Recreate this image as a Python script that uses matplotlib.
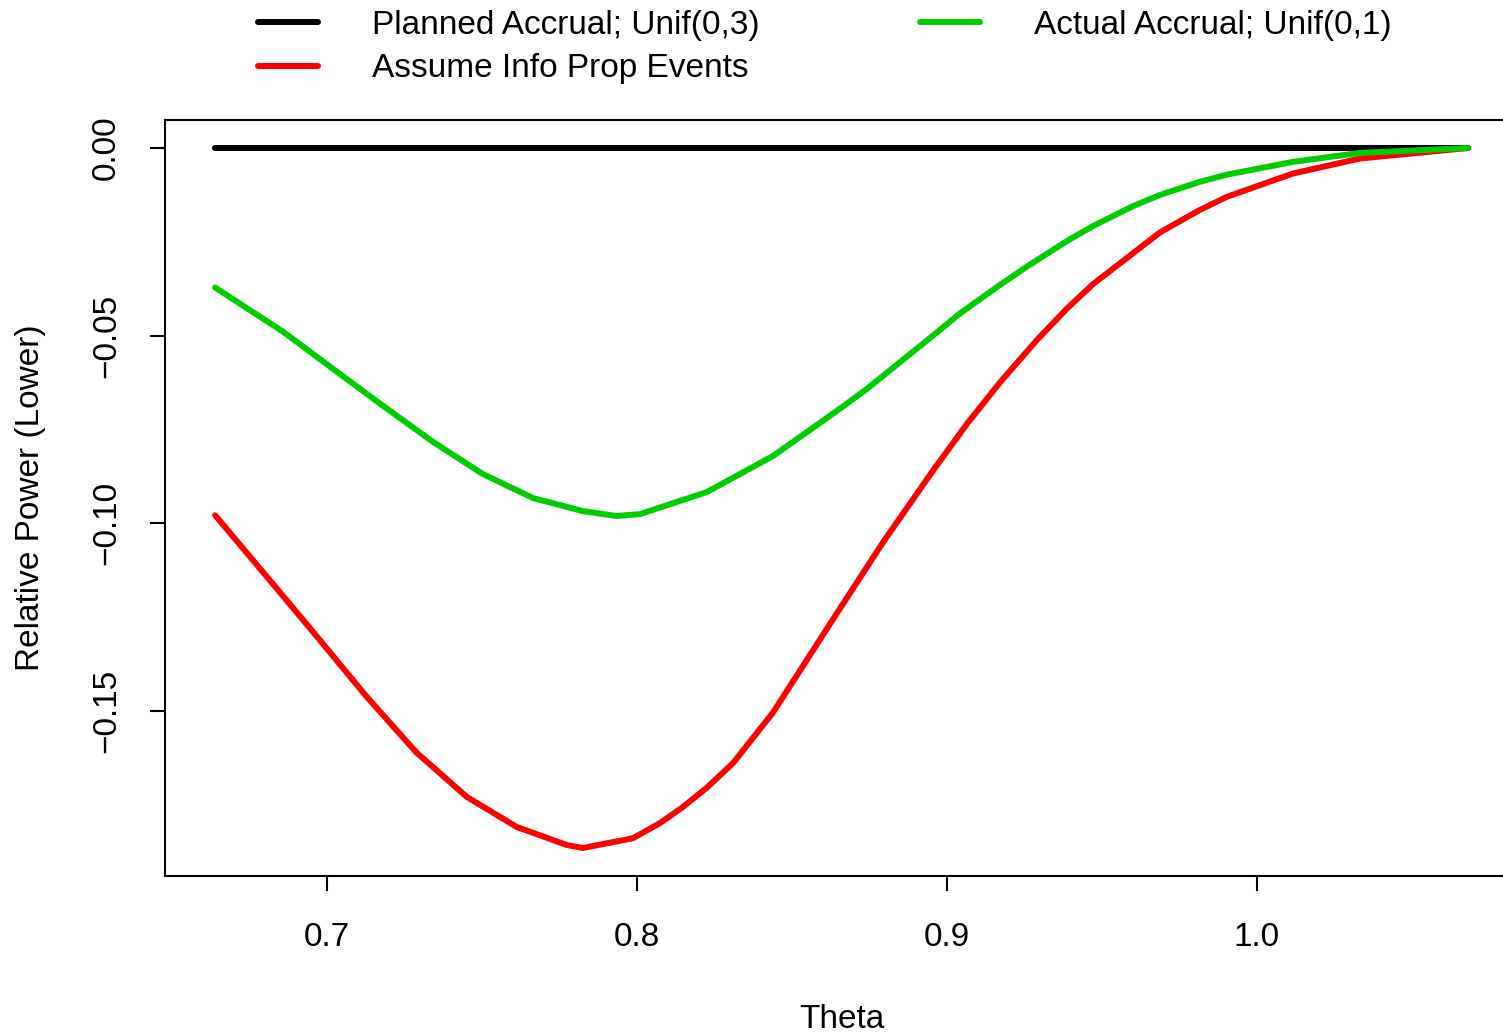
import matplotlib
matplotlib.use("Agg")
import matplotlib.pyplot as plt

plt.rcParams['font.family'] = ['Liberation Sans', 'DejaVu Sans']

# Planned accrual (reference line at zero)
theta_planned = [0.664, 1.068]
planned = [0.0, 0.0]

# Assume info prop events (red)
theta_assume = [0.664, 0.6806, 0.6968, 0.7129, 0.729, 0.7452, 0.7613, 0.7774, 0.7826, 0.7987,
                0.8074, 0.8148, 0.8226, 0.831, 0.8439, 0.8632, 0.8794, 0.8955, 0.9065, 0.9171,
                0.929, 0.9387, 0.9471, 0.9687, 0.9816, 0.9903, 1.0116, 1.0332, 1.068]
assume_info = [-0.0979, -0.1142, -0.1302, -0.1463, -0.1612, -0.1730, -0.1810, -0.1858, -0.1866, -0.1840,
               -0.1800, -0.1757, -0.1705, -0.1640, -0.1505, -0.1257, -0.1051, -0.0860, -0.0735, -0.0625,
               -0.0512, -0.0428, -0.0363, -0.0225, -0.0165, -0.0130, -0.0068, -0.0028, 0.0]

# Actual accrual (green)
theta_actual = [0.664, 0.6858, 0.7019, 0.7181, 0.7342, 0.7503, 0.7665, 0.7826, 0.7935, 0.801,
                0.8226, 0.8439, 0.8655, 0.8742, 0.8955, 0.9042, 0.9171, 0.9258, 0.9387, 0.9471,
                0.96, 0.9687, 0.9816, 0.9903, 1.0116, 1.0332, 1.068]
actual = [-0.0372, -0.0489, -0.0588, -0.0687, -0.0783, -0.0869, -0.0933, -0.0968, -0.0981, -0.0976,
          -0.0917, -0.0821, -0.0695, -0.0642, -0.0500, -0.0441, -0.0365, -0.0316, -0.0248, -0.0208,
          -0.0155, -0.0125, -0.0090, -0.0071, -0.0037, -0.0013, 0.0]

labels = ["Planned Accrual; Unif(0,3)", "Assume Info Prop Events", "Actual Accrual; Unif(0,1)"]
colors = ["#000000", "#FF0000", "#00CD00"]
xticks = [0.7, 0.8, 0.9, 1.0]
yticks = [0.00, -0.05, -0.10, -0.15]

W, H = 1503, 1032
fig = plt.figure(figsize=(W / 100, H / 100), dpi=100)
ax = fig.add_axes([165 / W, 1 - 876 / H, (1518 - 165) / W, (876 - 120) / H])

lines = []
for xs, ys, c, lab in zip([theta_planned, theta_assume, theta_actual],
                          [planned, assume_info, actual], colors, labels):
    l, = ax.plot(xs, ys, color=c, lw=4.3, label=lab, solid_capstyle='round',
                 solid_joinstyle='round')
    lines.append(l)

allx = theta_planned + theta_assume + theta_actual
ally = planned + assume_info + actual
dx = (max(allx) - min(allx)) * 0.04
dy = (max(ally) - min(ally)) * 0.04
ax.set_xlim(min(allx) - dx, max(allx) + dx)
ax.set_ylim(min(ally) - dy, max(ally) + dy)

ax.set_xticks(xticks)
ax.set_xticklabels([f"{v:.1f}" for v in xticks])
ax.set_yticks(yticks)
ax.set_yticklabels([f"{v:.2f}".replace("-", "\u2212") for v in yticks], rotation=90, va='center')

for s in ax.spines.values():
    s.set_linewidth(1.5)
ax.tick_params(direction='out', length=11, width=1.5, labelsize=24)
ax.tick_params(axis='x', pad=22)
ax.tick_params(axis='y', pad=20)

ax.set_xlabel("Theta", fontsize=24, labelpad=37)
ax.set_ylabel("Relative Power (Lower)", fontsize=24, labelpad=32)

fig.legend(handles=lines, loc='upper left', bbox_to_anchor=(258 / W, 1 - 10 / H),
           ncol=2, frameon=False, fontsize=24, handlelength=1.8, handletextpad=1.62,
           columnspacing=4.8, labelspacing=0.37, borderpad=0, borderaxespad=0)

fig.savefig("out.png", dpi=100)
